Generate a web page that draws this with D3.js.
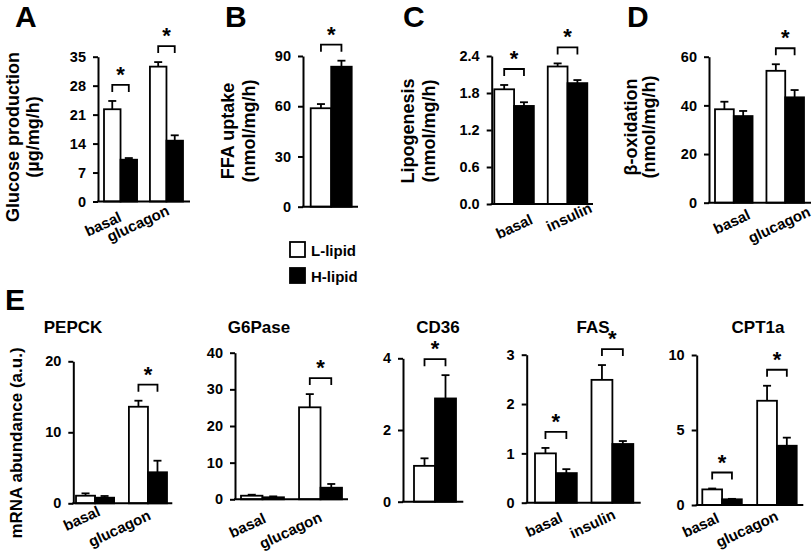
<!DOCTYPE html>
<html><head><meta charset="utf-8">
<script src="https://cdn.jsdelivr.net/npm/d3@7"></script>
<style>
html,body{margin:0;padding:0;background:#fff;}
svg{display:block;}
text{font-family:"Liberation Sans",Arial,sans-serif;font-weight:bold;fill:#000;}
</style></head>
<body>
<svg id="chart" width="812" height="551"></svg>
<script>
// ---------------- DATA ----------------
// A: Glucose production
const groupsA = ["basal", "glucagon"];
const lLipidA = [22.3, 32.6];
const lLipidErrA = [2.0, 1.1];
const hLipidA = [10.1, 14.7];
const hLipidErrA = [0.4, 1.3];
const ticksA = [0, 7, 14, 21, 28, 35];
const sigA = [true, true];
// B: FFA uptake
const groupsB = [""];
const lLipidB = [58.8];
const lLipidErrB = [2.5];
const hLipidB = [83.6];
const hLipidErrB = [3.6];
const ticksB = [0, 30, 60, 90];
const sigB = [true];
// C: Lipogenesis
const groupsC = ["basal", "insulin"];
const lLipidC = [1.86, 2.23];
const lLipidErrC = [0.07, 0.05];
const hLipidC = [1.59, 1.96];
const hLipidErrC = [0.06, 0.05];
const ticksC = [0, 0.6, 1.2, 1.8, 2.4];
const sigC = [true, true];
// D: beta-oxidation
const groupsD = ["basal", "glucagon"];
const lLipidD = [38.4, 54.2];
const lLipidErrD = [3.1, 2.7];
const hLipidD = [35.6, 43.3];
const hLipidErrD = [2.1, 3.0];
const ticksD = [0, 20, 40, 60];
const sigD = [false, true];
// E: mRNA abundance
const groupsPEPCK = ["basal", "glucagon"];
const lLipidPEPCK = [1.07, 13.6];
const lLipidErrPEPCK = [0.33, 0.85];
const hLipidPEPCK = [0.79, 4.37];
const hLipidErrPEPCK = [0.24, 1.63];
const ticksPEPCK = [0, 10, 20];
const sigPEPCK = [false, true];

const groupsG6Pase = ["basal", "glucagon"];
const lLipidG6Pase = [0.98, 25.1];
const lLipidErrG6Pase = [0.27, 3.6];
const hLipidG6Pase = [0.55, 3.16];
const hLipidErrG6Pase = [0.25, 1.02];
const ticksG6Pase = [0, 10, 20, 30, 40];
const sigG6Pase = [false, true];

const groupsCD36 = [""];
const lLipidCD36 = [1.0];
const lLipidErrCD36 = [0.21];
const hLipidCD36 = [2.88];
const hLipidErrCD36 = [0.65];
const ticksCD36 = [0, 2, 4];
const sigCD36 = [true];

const groupsFAS = ["basal", "insulin"];
const lLipidFAS = [1.0, 2.49];
const lLipidErrFAS = [0.11, 0.3];
const hLipidFAS = [0.6, 1.19];
const hLipidErrFAS = [0.08, 0.06];
const ticksFAS = [0, 1, 2, 3];
const sigFAS = [true, true];

const groupsCPT1a = ["basal", "glucagon"];
const lLipidCPT1a = [1.04, 6.95];
const lLipidErrCPT1a = [0.06, 1.0];
const hLipidCPT1a = [0.38, 3.95];
const hLipidErrCPT1a = [0.03, 0.54];
const ticksCPT1a = [0, 5, 10];
const sigCPT1a = [true, true];

const seriesNames = ["L-lipid", "H-lipid"];

// ---------------- LAYOUT ----------------
const titleY = 333;
const panels = [
  {g: groupsA, L: lLipidA, Le: lLipidErrA, H: hLipidA, He: hLipidErrA, ticks: ticksA, sig: sigA, fmt: d3.format("d"),
   ax: 98, axEnd: 190, yTop: 56.7, yBot: 201.5, band: [104, 183], pad: 0.28,
   lab: [[-17.5, 22.5], [-28.5, 22]], letter: ["A", 15, 27],
   ylab: [["Glucose production", 18.5], ["(µg/mg/h)", 38.5]], ylabY: 137},
  {g: groupsB, L: lLipidB, Le: lLipidErrB, H: hLipidB, He: hLipidErrB, ticks: ticksB, sig: sigB, fmt: d3.format("d"),
   ax: 303, axEnd: 358, yTop: 56, yBot: 206.7, band: [310.7, 351.7], pad: 0,
   lab: [[0, 0]], letter: ["B", 225, 27],
   ylab: [["FFA uptake", 233.5], ["(nmol/mg/h)", 254.5]], ylabY: 131},
  {g: groupsC, L: lLipidC, Le: lLipidErrC, H: hLipidC, He: hLipidErrC, ticks: ticksC, sig: sigC, fmt: d3.format(".1f"),
   ax: 491.7, axEnd: 593, yTop: 56, yBot: 204, band: [494.3, 587.3], pad: 0.26,
   lab: [[0, 22.5], [1.5, 13]], letter: ["C", 403, 27],
   ylab: [["Lipogenesis", 414], ["(nmol/mg/h)", 434.5]], ylabY: 131},
  {g: groupsD, L: lLipidD, Le: lLipidErrD, H: hLipidD, He: hLipidErrD, ticks: ticksD, sig: sigD, fmt: d3.format("d"),
   ax: 709, axEnd: 811, yTop: 56.7, yBot: 202.7, band: [715, 804], pad: 0.27,
   lab: [[-2, 19], [-6, 22]], letter: ["D", 627, 27],
   ylab: [["β-oxidation", 636.5], ["(nmol/mg/h)", 655]], ylabY: 127},
  {g: groupsPEPCK, L: lLipidPEPCK, Le: lLipidErrPEPCK, H: hLipidPEPCK, He: hLipidErrPEPCK, ticks: ticksPEPCK, sig: sigPEPCK, fmt: d3.format("d"),
   ax: 73.3, axEnd: 172.3, yTop: 361.3, yBot: 503.3, band: [76, 167], pad: 0.28,
   lab: [[-13.5, 15], [-28.5, 25]], title: ["PEPCK", 73]},
  {g: groupsG6Pase, L: lLipidG6Pase, Le: lLipidErrG6Pase, H: hLipidG6Pase, He: hLipidErrG6Pase, ticks: ticksG6Pase, sig: sigG6Pase, fmt: d3.format("d"),
   ax: 235, axEnd: 348, yTop: 352.7, yBot: 499.3, band: [241, 342], pad: 0.26,
   lab: [[-15, 26], [-30, 31]], title: ["G6Pase", 259]},
  {g: groupsCD36, L: lLipidCD36, Le: lLipidErrCD36, H: hLipidCD36, He: hLipidErrCD36, ticks: ticksCD36, sig: sigCD36, fmt: d3.format("d"),
   ax: 403, axEnd: 463.3, yTop: 358.3, yBot: 501.7, band: [414, 456], pad: 0,
   lab: [[0, 0]], title: ["CD36", 438]},
  {g: groupsFAS, L: lLipidFAS, Le: lLipidErrFAS, H: hLipidFAS, He: hLipidErrFAS, ticks: ticksFAS, sig: sigFAS, fmt: d3.format("d"),
   ax: 526.7, axEnd: 640.7, yTop: 354.7, yBot: 502.7, band: [535, 633.3], pad: 0.26,
   lab: [[-12, 22], [-20, 21]], title: ["FAS", 593]},
  {g: groupsCPT1a, L: lLipidCPT1a, Le: lLipidErrCPT1a, H: hLipidCPT1a, He: hLipidErrCPT1a, ticks: ticksCPT1a, sig: sigCPT1a, fmt: d3.format("d"),
   ax: 696.7, axEnd: 803.3, yTop: 355, yBot: 505, band: [702.3, 796.7], pad: 0.28,
   lab: [[-21.5, 20], [-30, 24]], title: ["CPT1a", 758]}
];

const svg = d3.select("#chart");

panels.forEach(p => {
  const gp = svg.append("g");
  const y = d3.scaleLinear().domain([0, d3.max(p.ticks)]).range([p.yBot, p.yTop]);
  const x = d3.scaleBand().domain(p.g).range(p.band).paddingInner(p.pad).paddingOuter(0);
  const bw = x.bandwidth() / 2;
  const inner = d3.scaleBand().domain(seriesNames).range([0, x.bandwidth()]);

  // y axis
  const yAxis = d3.axisLeft(y).tickValues(p.ticks).tickFormat(p.fmt).tickSize(5).tickSizeOuter(0).tickPadding(7);
  const ag = gp.append("g").attr("transform", `translate(${p.ax},0)`).call(yAxis);
  ag.select(".domain").attr("stroke", "#000").attr("stroke-width", 2);
  ag.selectAll(".tick line").attr("stroke", "#000").attr("stroke-width", 2);
  ag.selectAll(".tick text").attr("font-size", 14.5).attr("font-family", "Liberation Sans, Arial, sans-serif").attr("font-weight", "bold");

  // bars
  p.g.forEach((grp, i) => {
    const vals = [[p.L[i], p.Le[i], "#fff"], [p.H[i], p.He[i], "#000"]];
    vals.forEach((v, j) => {
      const x0 = x(grp) + inner(seriesNames[j]);
      const cx = x0 + bw / 2;
      gp.append("line").attr("x1", cx).attr("x2", cx).attr("y1", y(v[0])).attr("y2", y(v[0] + v[1]))
        .attr("stroke", "#000").attr("stroke-width", 1.8);
      gp.append("line").attr("x1", cx - 4).attr("x2", cx + 4).attr("y1", y(v[0] + v[1])).attr("y2", y(v[0] + v[1]))
        .attr("stroke", "#000").attr("stroke-width", 1.8);
      gp.append("rect").attr("x", x0).attr("y", y(v[0])).attr("width", bw).attr("height", p.yBot - y(v[0]))
        .attr("fill", v[2]).attr("stroke", "#000").attr("stroke-width", 1.8);
    });
    if (p.sig[i]) {
      const top = y(Math.max(p.L[i] + p.Le[i], p.H[i] + p.He[i])) - 16;
      const x1 = x(grp) + bw / 2, x2 = x(grp) + bw * 1.5;
      gp.append("path").attr("d", `M${x1},${top + 7}V${top}H${x2}V${top + 7}`)
        .attr("fill", "none").attr("stroke", "#000").attr("stroke-width", 1.8);
      gp.append("text").attr("x", (x1 + x2) / 2).attr("y", top - 3).attr("text-anchor", "middle")
        .attr("font-size", 22).text("*");
    }
    if (grp) {
      const cxg = x(grp) + x.bandwidth() / 2;
      gp.append("text").attr("text-anchor", "middle").attr("font-size", 15)
        .attr("transform", `translate(${cxg + p.lab[i][0]},${p.yBot + p.lab[i][1]}) rotate(-25)`)
        .attr("dy", "0.35em").text(grp);
    }
  });

  gp.append("line").attr("x1", p.ax - 1).attr("x2", p.axEnd).attr("y1", p.yBot).attr("y2", p.yBot)
    .attr("stroke", "#000").attr("stroke-width", 2);

  if (p.letter) {
    gp.append("text").attr("x", p.letter[1]).attr("y", p.letter[2]).attr("font-size", 30).text(p.letter[0]);
  }
  if (p.ylab) {
    p.ylab.forEach(l => {
      gp.append("text").attr("text-anchor", "middle").attr("font-size", 18)
        .attr("transform", `translate(${l[1]},${p.ylabY}) rotate(-90)`).text(l[0]);
    });
  }
  if (p.title) {
    gp.append("text").attr("x", p.title[1]).attr("y", titleY).attr("text-anchor", "middle").attr("font-size", 17).text(p.title[0]);
  }
});

svg.append("text").attr("x", 5).attr("y", 310).attr("font-size", 30).text("E");
svg.append("text").attr("text-anchor", "middle").attr("font-size", 17)
  .attr("transform", "translate(22,443) rotate(-90)").text("mRNA abundance (a.u.)");

const legend = svg.append("g");
seriesNames.forEach((s, i) => {
  legend.append("rect").attr("x", 290).attr("y", 242 + i * 26).attr("width", 15).attr("height", 15)
    .attr("fill", i === 0 ? "#fff" : "#000").attr("stroke", "#000").attr("stroke-width", 1.8);
  legend.append("text").attr("x", 311).attr("y", 256 + i * 26).attr("font-size", 15).text(s);
});
</script>
</body></html>
